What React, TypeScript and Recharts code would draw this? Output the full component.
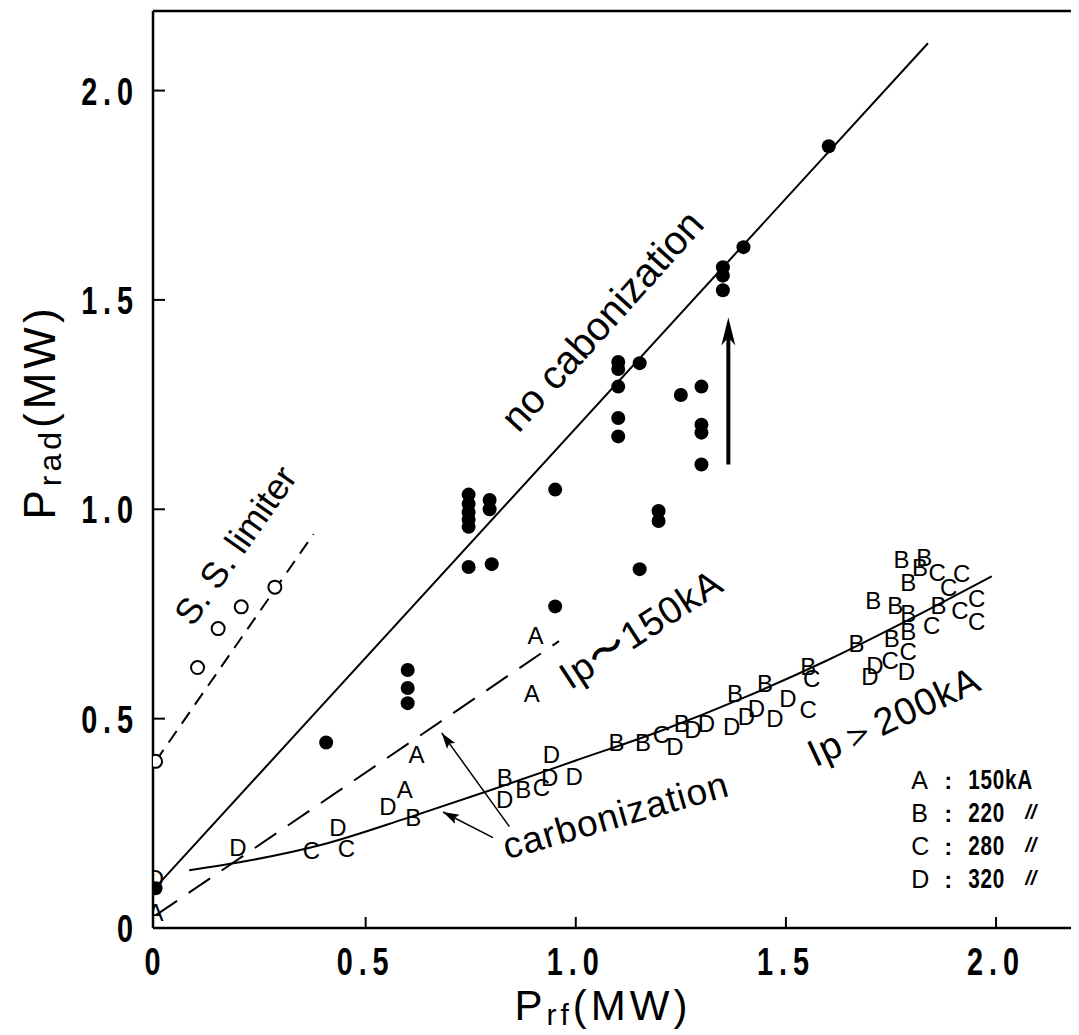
import React from 'react';
import { ComposedChart, XAxis, YAxis, Scatter, Line, ReferenceLine, ReferenceDot } from 'recharts';

type Pt = [number, number];

const X_MIN = -0.006;
const X_MAX = 2.195;
const Y_MIN = 0;
const Y_MAX = 2.19;

const xTicks = [0, 0.5, 1, 1.5, 2];
const xTickLabels = ['0', '0.5', '1.0', '1.5', '2.0'];
const yTicks = [0, 0.5, 1, 1.5, 2];
const yTickLabels = ['0', '0.5', '1.0', '1.5', '2.0'];

// filled circles: no carbonization
const noCarbon: Pt[] = [
  [0, 0.095], [0.406, 0.443],
  [0.6, 0.616], [0.6, 0.573], [0.6, 0.537],
  [0.745, 1.035], [0.745, 1.013], [0.745, 0.993], [0.745, 0.975], [0.745, 0.958], [0.745, 0.862],
  [0.795, 1.022], [0.795, 1.0], [0.8, 0.869],
  [0.951, 1.047], [0.951, 0.768],
  [1.101, 1.352], [1.101, 1.335], [1.101, 1.293], [1.101, 1.218], [1.101, 1.174],
  [1.152, 1.349], [1.152, 0.857],
  [1.197, 0.996], [1.197, 0.972],
  [1.25, 1.273],
  [1.299, 1.293], [1.299, 1.202], [1.299, 1.183], [1.299, 1.107],
  [1.35, 1.578], [1.35, 1.558], [1.35, 1.523],
  [1.399, 1.626], [1.602, 1.867],
];

// open circles: S.S. limiter
const ssLimiter: Pt[] = [[0, 0.398], [0.1, 0.622], [0.149, 0.715], [0.204, 0.767], [0.284, 0.814]];

// carbonization, labelled by plasma current
const letterA: Pt[] = [[0, 0.038], [0.593, 0.331], [0.621, 0.414], [0.895, 0.561], [0.904, 0.699]];
const letterB: Pt[] = [
  [0.613, 0.264], [0.831, 0.359], [0.875, 0.331], [1.097, 0.442], [1.16, 0.442], [1.252, 0.489],
  [1.379, 0.561], [1.45, 0.584], [1.553, 0.624], [1.668, 0.679], [1.708, 0.782], [1.752, 0.691],
  [1.76, 0.77], [1.775, 0.881], [1.791, 0.826], [1.791, 0.751], [1.791, 0.707], [1.819, 0.862],
  [1.829, 0.885], [1.863, 0.771],
];
const letterC: Pt[] = [
  [0.371, 0.185], [0.454, 0.189], [0.918, 0.335], [1.204, 0.462], [1.553, 0.521], [1.561, 0.596],
  [1.748, 0.64], [1.791, 0.66], [1.847, 0.723], [1.86, 0.85], [1.887, 0.814], [1.914, 0.759],
  [1.918, 0.846], [1.954, 0.786], [1.954, 0.731],
];
const letterD: Pt[] = [
  [0, 0.118], [0.196, 0.192], [0.434, 0.24], [0.553, 0.291], [0.831, 0.307], [0.938, 0.359],
  [0.942, 0.414], [0.996, 0.363], [1.236, 0.434], [1.279, 0.474], [1.311, 0.489], [1.371, 0.481],
  [1.406, 0.505], [1.43, 0.525], [1.474, 0.501], [1.505, 0.549], [1.7, 0.6], [1.712, 0.628],
  [1.787, 0.612],
];

// fitted lines
const noCarbonFit: Pt[] = [[0, 0.097], [1.838, 2.113]];
const ssFit: Pt[] = [[0, 0.398], [0.376, 0.941]];
const ip150Fit: Pt[] = [[0, 0.03], [0.96, 0.685]];
const carbonFit: Pt[] = [
  [0.08, 0.138], [0.2, 0.157], [0.4, 0.2], [0.6, 0.263], [0.8, 0.33], [1.0, 0.4],
  [1.2, 0.47], [1.4, 0.55], [1.6, 0.64], [1.8, 0.74], [1.99, 0.84],
];

// arrows (from, to)
const arrowUp: Pt[] = [[1.363, 1.107], [1.363, 1.458]];
const arrowToIp150: Pt[] = [[0.842, 0.242], [0.681, 0.466]];
const arrowToCarbon: Pt[] = [[0.803, 0.216], [0.684, 0.277]];

const legendLetters = ['A', 'B', 'C', 'D'];
const legendCurrents = ['150kA', '220', '280', '320'];

const toXY = (pts: Pt[]) => pts.map(([x, y]) => ({ x, y }));

const SANS = "'Liberation Sans', Arial, sans-serif";
const INK = '#000';

// condensed bold numerals, squeezed horizontally
const Narrow = ({ x, y, anchor, size, spacing, children }: any) => (
  <g transform={`translate(${x},${y}) scale(0.74,1)`}>
    <text x={0} y={0} textAnchor={anchor} fontFamily={SANS} fontWeight="bold" fontSize={size} letterSpacing={spacing} fill={INK}>
      {children}
    </text>
  </g>
);

const XTick = (props: any) => {
  const { x, y, payload } = props;
  const i = xTicks.indexOf(payload.value);
  return (
    <g>
      {payload.value !== 0 && <line x1={x} x2={x} y1={y} y2={y - 11} stroke={INK} strokeWidth={2} />}
      <Narrow x={x} y={y + 47} anchor="middle" size={39} spacing={8}>{xTickLabels[i]}</Narrow>
    </g>
  );
};

const YTick = (props: any) => {
  const { x, y, payload } = props;
  const i = yTicks.indexOf(payload.value);
  return (
    <g>
      {payload.value !== 0 && <line x1={x} x2={x + 12} y1={y} y2={y} stroke={INK} strokeWidth={2} />}
      <Narrow x={x - 14} y={y + 14} anchor="end" size={39} spacing={8}>{yTickLabels[i]}</Narrow>
    </g>
  );
};

const letterShape = (ch: string) => (p: any) => (
  <text x={p.cx} y={p.cy + 8.5} textAnchor="middle" fontFamily={SANS} fontSize={24} fill={INK}>
    {ch}
  </text>
);

const arrowHead = (from: Pt, to: Pt, len: number, half: number, back: number) => (p: any) => {
  const ang = (Math.atan2(-(to[1] - from[1]), to[0] - from[0]) * 180) / Math.PI;
  return (
    <polygon
      points={`0,0 ${-len},${-half} ${-back},0 ${-len},${half}`}
      transform={`translate(${p.cx},${p.cy}) rotate(${ang})`}
      fill={INK}
    />
  );
};

const note = (text: React.ReactNode, angle: number, size: number, spacing = 0) => (p: any) => (
  <text
    x={p.cx}
    y={p.cy}
    textAnchor="middle"
    dominantBaseline="central"
    fontFamily={SANS}
    fontSize={size}
    letterSpacing={spacing}
    fill={INK}
    transform={`rotate(${angle}, ${p.cx}, ${p.cy})`}
  >
    {text}
  </text>
);

const legendShape = (p: any) => (
  <g fill={INK}>
    {legendLetters.map((l, i) => (
      <g key={l}>
        <text x={p.cx} y={p.cy + i * 33} fontFamily={SANS} fontSize={25}>{l}</text>
        <text x={p.cx + 33} y={p.cy + i * 33} fontFamily={SANS} fontWeight="bold" fontSize={24}>:</text>
        <Narrow x={p.cx + 57} y={p.cy + i * 33} anchor="start" size={28} spacing={1}>{legendCurrents[i]}</Narrow>
        {i > 0 && (
          <text x={p.cx + 114} y={p.cy + i * 33 - 3} fontFamily={SANS} fontStyle="italic" fontWeight="bold" fontSize={20}>
            //
          </text>
        )}
      </g>
    ))}
  </g>
);

const lineProps = {
  dataKey: 'y',
  stroke: INK,
  dot: false,
  activeDot: false,
  isAnimationActive: false,
  legendType: 'none' as const,
};

export default function App() {
  return (
    <ComposedChart width={1071} height={1027} margin={{ top: 3, right: 1, left: 0, bottom: 0 }}>
      <XAxis
        type="number"
        dataKey="x"
        domain={[X_MIN, X_MAX]}
        ticks={xTicks}
        allowDataOverflow
        height={107}
        tickSize={0}
        tickMargin={0}
        tickLine={false}
        axisLine={{ stroke: INK, strokeWidth: 2.5 }}
        tick={<XTick />}
        label={{
          content: (lp: any) => {
            const vb = lp.viewBox;
            return (
              <text x={vb.x + 450} y={vb.y + 92} textAnchor="middle" fontFamily={SANS} fontSize={42} letterSpacing={4} fill={INK}>
                P<tspan fontSize={30} dy={5}>rf</tspan>
                <tspan dy={-5}>(MW)</tspan>
              </text>
            );
          },
        }}
      />
      <YAxis
        type="number"
        dataKey="y"
        domain={[Y_MIN, Y_MAX]}
        ticks={yTicks}
        allowDataOverflow
        width={145}
        tickSize={0}
        tickMargin={0}
        tickLine={false}
        axisLine={{ stroke: INK, strokeWidth: 2.5 }}
        tick={<YTick />}
        label={{
          content: () => (
            <text x={47} y={404} textAnchor="middle" fontFamily={SANS} fontSize={44} letterSpacing={4} fill={INK} transform="rotate(-90, 47, 404)">
              P<tspan fontSize={32} dy={6}>rad</tspan>
              <tspan dy={-6}>(MW)</tspan>
            </text>
          ),
        }}
      />
      <ReferenceLine y={Y_MAX} stroke={INK} strokeWidth={2.5} />
      <ReferenceLine x={X_MAX} stroke={INK} strokeWidth={2.5} />

      <Line {...lineProps} data={toXY(noCarbonFit)} type="linear" strokeWidth={2} />
      <Line {...lineProps} data={toXY(ssFit)} type="linear" strokeWidth={2} strokeDasharray="14 9" />
      <Line {...lineProps} data={toXY(ip150Fit)} type="linear" strokeWidth={2} strokeDasharray="26 14" />
      <Line {...lineProps} data={toXY(carbonFit)} type="monotone" strokeWidth={2} />

      <Line {...lineProps} data={toXY([arrowUp[0], [arrowUp[1][0], arrowUp[1][1] - 0.04]])} type="linear" strokeWidth={4} />
      <Line {...lineProps} data={toXY(arrowToIp150)} type="linear" strokeWidth={1.5} />
      <Line {...lineProps} data={toXY(arrowToCarbon)} type="linear" strokeWidth={1.5} />
      <Scatter data={toXY([arrowUp[1]])} isAnimationActive={false} shape={arrowHead(arrowUp[0], arrowUp[1], 28, 7, 20)} />
      <Scatter data={toXY([arrowToIp150[1]])} isAnimationActive={false} shape={arrowHead(arrowToIp150[0], arrowToIp150[1], 16, 5, 13)} />
      <Scatter data={toXY([arrowToCarbon[1]])} isAnimationActive={false} shape={arrowHead(arrowToCarbon[0], arrowToCarbon[1], 16, 5, 13)} />

      <Scatter
        data={toXY(noCarbon)}
        isAnimationActive={false}
        shape={(p: any) => <circle cx={p.cx} cy={p.cy} r={7} fill={INK} />}
      />
      <Scatter
        data={toXY(ssLimiter)}
        isAnimationActive={false}
        shape={(p: any) => <circle cx={p.cx} cy={p.cy} r={6.5} fill="#fff" stroke={INK} strokeWidth={2} />}
      />
      <Scatter data={toXY(letterA)} isAnimationActive={false} shape={letterShape('A')} />
      <Scatter data={toXY(letterB)} isAnimationActive={false} shape={letterShape('B')} />
      <Scatter data={toXY(letterC)} isAnimationActive={false} shape={letterShape('C')} />
      <Scatter data={toXY(letterD)} isAnimationActive={false} shape={letterShape('D')} />

      <ReferenceDot x={1.062} y={1.451} shape={note('no  cabonization', -48, 40)} />
      <ReferenceDot x={0.19} y={0.914} shape={note('S. S. limiter', -55, 36)} />
      <ReferenceDot x={1.155} y={0.714} shape={note('Ip〜150kA', -33, 38, 1)} />
      <ReferenceDot x={1.757} y={0.505} shape={note('Ip＞200kA', -25, 38, 1)} />
      <ReferenceDot x={1.095} y={0.269} shape={note('carbonization', -16, 37, 1)} />
      <ReferenceDot x={1.798} y={0.332} shape={legendShape} />
    </ComposedChart>
  );
}
